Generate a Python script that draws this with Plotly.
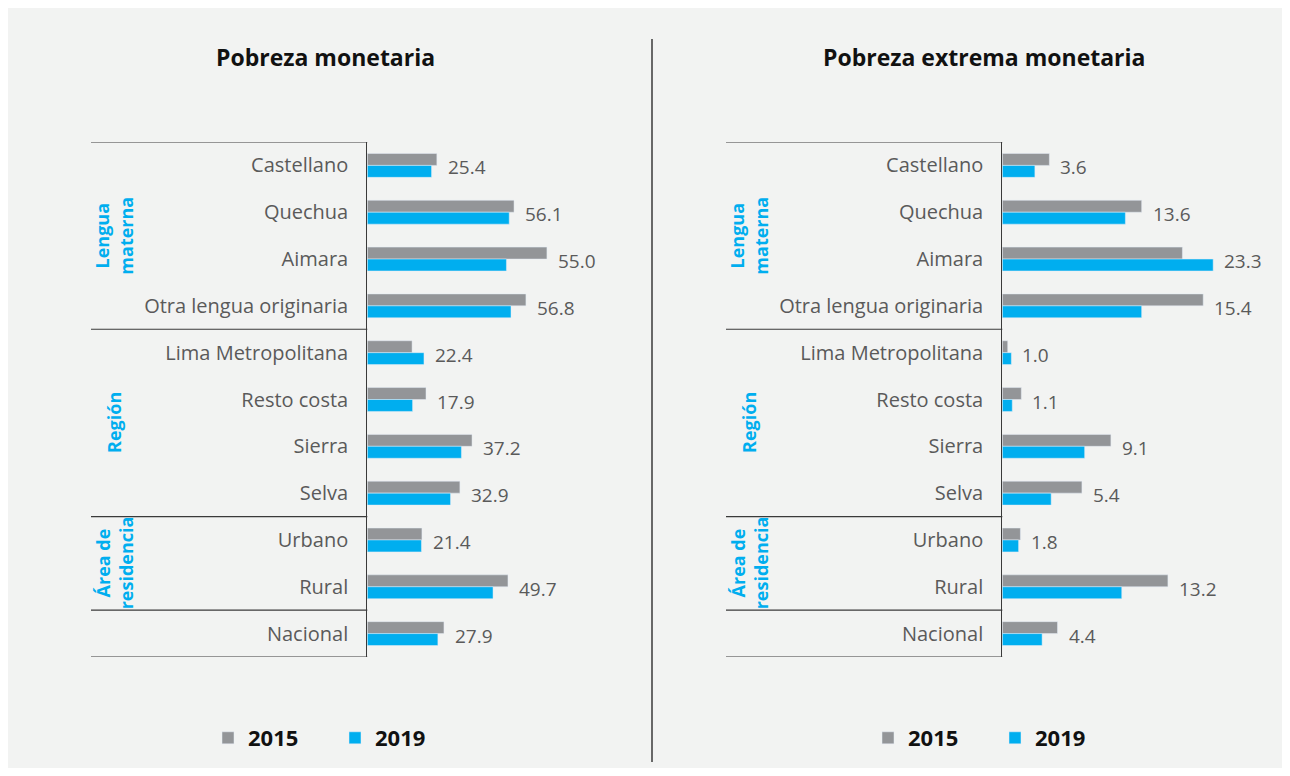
import plotly.graph_objects as go

# ---------------- data ----------------
categories = ["Castellano", "Quechua", "Aimara", "Otra lengua originaria",
              "Lima Metropolitana", "Resto costa", "Sierra", "Selva",
              "Urbano", "Rural", "Nacional"]
pobreza_2015 = [27.5, 58.0, 71.0, 62.7, 17.7, 23.2, 41.4, 36.6, 21.6, 55.6, 30.3]
pobreza_2019 = [25.4, 56.1, 55.0, 56.8, 22.4, 17.9, 37.2, 32.9, 21.4, 49.7, 27.9]
extrema_2015 = [5.2, 15.4, 19.9, 22.2, 0.6, 2.1, 12.0, 8.8, 2.0, 18.3, 6.1]
extrema_2019 = [3.6, 13.6, 23.3, 15.4, 1.0, 1.1, 9.1, 5.4, 1.8, 13.2, 4.4]
series_names = ["2015", "2019"]
panel_titles = ["Pobreza monetaria", "Pobreza extrema monetaria"]
group_labels = ["Lengua<br>materna", "Región", "Área de<br>residencia"]
group_members = [categories[0:4], categories[4:8], categories[8:10]]

# ---------------- style ----------------
W, H = 1274, 760
OFF = 8
BG = "#f2f3f2"
GRAY = "#939598"
BLUE = "#00aeef"
TXT = "#5a5a5a"
LINE = "#3a3a3a"
FONT = "Open Sans"


def fx(px):
    return (px - OFF) / W


def fy(py):
    return 1 - (py - OFF) / H


fig = go.Figure()

panels = [
    dict(x="x", y="y", xa="xaxis", ya="yaxis", v15=pobreza_2015, v19=pobreza_2019,
         ax=367.3, right=620.3, rng=100, shift=0, legend="legend"),
    dict(x="x2", y="y2", xa="xaxis2", ya="yaxis2", v15=extrema_2015, v19=extrema_2019,
         ax=1002.3, right=1255.7, rng=28, shift=635, legend="legend2"),
]

y_dom = [fy(657), fy(142)]
shapes = []
annotations = []

for i, p in enumerate(panels):
    fig.add_trace(go.Bar(y=categories, x=p["v15"], orientation="h", name=series_names[0],
                         marker=dict(color=GRAY), xaxis=p["x"], yaxis=p["y"],
                         legend=p["legend"], hoverinfo="x+y"))
    fig.add_trace(go.Bar(y=categories, x=p["v19"], orientation="h", name=series_names[1],
                         marker=dict(color=BLUE), xaxis=p["x"], yaxis=p["y"],
                         legend=p["legend"], hoverinfo="x+y"))
    fig.update_layout({
        p["xa"]: dict(domain=[fx(p["ax"]), fx(p["right"])], range=[0, p["rng"]],
                      visible=False, anchor=p["y"], fixedrange=True),
        p["ya"]: dict(domain=y_dom, categoryorder="array", categoryarray=categories,
                      range=[len(categories) - 0.5, -0.5], anchor=p["x"],
                      showline=True, linecolor=LINE, linewidth=1.2,
                      ticks="outside", ticklen=14, tickcolor="rgba(0,0,0,0)",
                      tickfont=dict(family=FONT, size=20, color=TXT),
                      showgrid=False, zeroline=False, fixedrange=True),
    })
    # value labels (2019 value, placed after the longer bar)
    for c, a, b in zip(categories, p["v15"], p["v19"]):
        annotations.append(dict(x=max(a, b), y=c, xref=p["x"], yref=p["y"],
                                text=f"{b:.1f}", showarrow=False, xanchor="left",
                                xshift=9, yshift=-2, yanchor="middle",
                                font=dict(family=FONT, size=19, color=TXT)))
    # separator lines
    n = len(categories)
    bounds = [-0.5]
    acc = 0
    for g in group_members:
        acc += len(g)
        bounds.append(acc - 0.5)
    bounds.append(n - 0.5)
    for bnd in bounds:
        shapes.append(dict(type="line", xref="paper", yref=p["y"],
                           x0=fx(91 + p["shift"]), x1=fx(p["ax"]), y0=bnd, y1=bnd,
                           line=dict(color=LINE, width=1.2)))
    # group labels
    for lab, mem in zip(group_labels, group_members):
        mid = (categories.index(mem[0]) + categories.index(mem[-1])) / 2
        annotations.append(dict(x=fx(114 + p["shift"]), y=mid, xref="paper", yref=p["y"],
                                text=f"<b>{lab}</b>", showarrow=False, textangle=-90,
                                xanchor="center", yanchor="middle",
                                font=dict(family=FONT, size=18, color=BLUE)))
    # title
    annotations.append(dict(x=fx(325 + p["shift"] + (0 if i == 0 else 24)), y=fy(57),
                            xref="paper", yref="paper",
                            text=f"<b>{panel_titles[i]}</b>", showarrow=False,
                            xanchor="center", yanchor="middle",
                            font=dict(family=FONT, size=23, color="#111111")))

# divider
shapes.append(dict(type="line", xref="paper", yref="paper", x0=fx(652), x1=fx(652),
                   y0=fy(39), y1=fy(762), line=dict(color=LINE, width=1.5)))

legend_style = dict(orientation="h", yanchor="middle", xanchor="left",
                    font=dict(family=FONT, size=22, color="#111111", weight="bold"),
                    bgcolor="rgba(0,0,0,0)", entrywidth=82, entrywidthmode="pixels",
                    itemclick=False, itemdoubleclick=False, traceorder="normal")

fig.update_layout(
    width=W, height=H,
    margin=dict(l=0, r=0, t=0, b=0),
    paper_bgcolor=BG, plot_bgcolor="rgba(0,0,0,0)",
    barmode="group", bargap=0.49, bargroupgap=0,
    showlegend=True,
    legend=dict(x=fx(208), y=fy(738), **legend_style),
    legend2=dict(x=fx(208 + 660), y=fy(738), **legend_style),
    shapes=shapes, annotations=annotations,
    font=dict(family=FONT),
)

fig.write_html("out.html")
